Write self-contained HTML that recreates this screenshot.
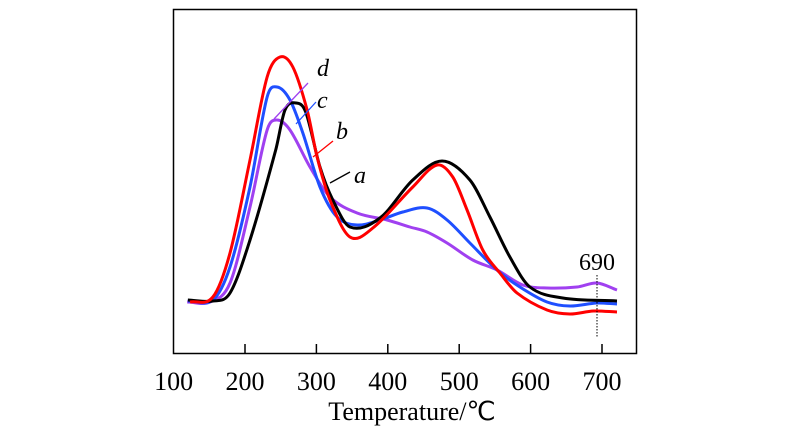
<!DOCTYPE html>
<html><head><meta charset="utf-8"><style>
html,body{margin:0;padding:0;background:#fff;}
svg{display:block;font-family:"Liberation Serif",serif;}
</style></head><body>
<svg id="chart" width="800" height="442" viewBox="0 0 800 442">
<rect x="173.5" y="9.5" width="463" height="344" fill="none" stroke="#000" stroke-width="1.5"/>
<g id="xticks"></g>
<g id="series"></g>
<text x="412" y="420" font-size="26" text-anchor="middle">Temperature/℃</text>
<g font-style="italic" font-size="24">
<text x="317" y="76">d</text>
<line x1="274" y1="119" x2="308" y2="83" stroke="#a040f0" stroke-width="1.3"/>
<text x="317" y="108">c</text>
<line x1="296" y1="124" x2="316" y2="102" stroke="#1f4fff" stroke-width="1.3"/>
<text x="336" y="139">b</text>
<line x1="313" y1="157" x2="333" y2="141" stroke="#f00" stroke-width="1.3"/>
<text x="354" y="183">a</text>
<line x1="330" y1="183" x2="350" y2="172" stroke="#000" stroke-width="1.3"/>
</g>
<text x="597" y="270" font-size="24" text-anchor="middle">690</text>
<line x1="597" y1="275" x2="597" y2="338" stroke="#000" stroke-width="1" stroke-dasharray="1.5,1.5"/>
</svg>
<script>
const xTicks=[100,200,300,400,500,600,700];
const tA=[120,155,179,207,243,256,271,285,305,323,347,389,435,476,515,543,571,599,645,721];
const vA=[54,53,61,114,204,244,251,242,187,154,127,136,174,193,174,137,97,67,56,53];
const tB=[123,155,179,207,231,249,267,287,301,319,347,379,435,469,491,511,533,557,581,623,655,688,721];
const vB=[52,57,101,194,277,297,287,244,197,154,117,126,167,189,177,144,104,81,61,44,40,43,42];
const tC=[120,155,179,207,231,245,263,281,305,329,357,389,421,455,483,515,553,585,623,655,693,721];
const vC=[53,54,87,167,257,267,254,221,167,137,129,134,142,146,134,111,84,67,52,48,51,50];
const tD=[119,151,179,207,231,245,263,291,319,357,399,431,455,483,519,553,589,623,665,693,721];
const vD=[52,52,71,147,224,234,224,187,157,141,134,127,122,111,94,84,69,66,67,71,64];
const X=t=>173.6+(t-100)*0.714;
const Y=v=>354-v;
const NS="http://www.w3.org/2000/svg";
const gx=document.getElementById('xticks');
xTicks.forEach(t=>{
  const l=document.createElementNS(NS,'line');
  
  
  l.setAttribute('x1',X(t));l.setAttribute('x2',X(t));
  l.setAttribute('y1',354);l.setAttribute('y2',t===100?354:344);
  l.setAttribute('stroke','#000');l.setAttribute('stroke-width','1.5');
  gx.appendChild(l);
  const tx=document.createElementNS(NS,'text');
  
  
  tx.setAttribute('x',X(t));tx.setAttribute('y',390);
  tx.setAttribute('font-size','26');tx.setAttribute('text-anchor','middle');
  tx.textContent=t;gx.appendChild(tx);
});
function path(ts,vs){
  const p=ts.map((t,i)=>[X(t),Y(vs[i])]);
  const n=p.length,m=[];
  for(let i=0;i<n;i++){
    const a=p[Math.max(0,i-1)],b=p[Math.min(n-1,i+1)];
    m.push((b[1]-a[1])/(b[0]-a[0]));
  }
  let d='M'+p[0][0]+','+p[0][1];
  for(let i=0;i<n-1;i++){
    const dx=(p[i+1][0]-p[i][0])/3;
    d+=' C'+(p[i][0]+dx)+','+(p[i][1]+m[i]*dx)+' '+(p[i+1][0]-dx)+','+(p[i+1][1]-m[i+1]*dx)+' '+p[i+1][0]+','+p[i+1][1];
  }
  return d;
}
const gs=document.getElementById('series');
[[tD,vD,'#a040f0','curve-d'],[tC,vC,'#1f4fff','curve-c'],[tA,vA,'#000','curve-a'],[tB,vB,'#f00','curve-b']].forEach(s=>{
  const e=document.createElementNS(NS,'path');
  
  
  e.setAttribute('d',path(s[0],s[1]));
  e.setAttribute('fill','none');e.setAttribute('stroke',s[2]);e.setAttribute('stroke-width','3');
  e.setAttribute('stroke-linejoin','round');
  gs.appendChild(e);
});
</script>
</body></html>
